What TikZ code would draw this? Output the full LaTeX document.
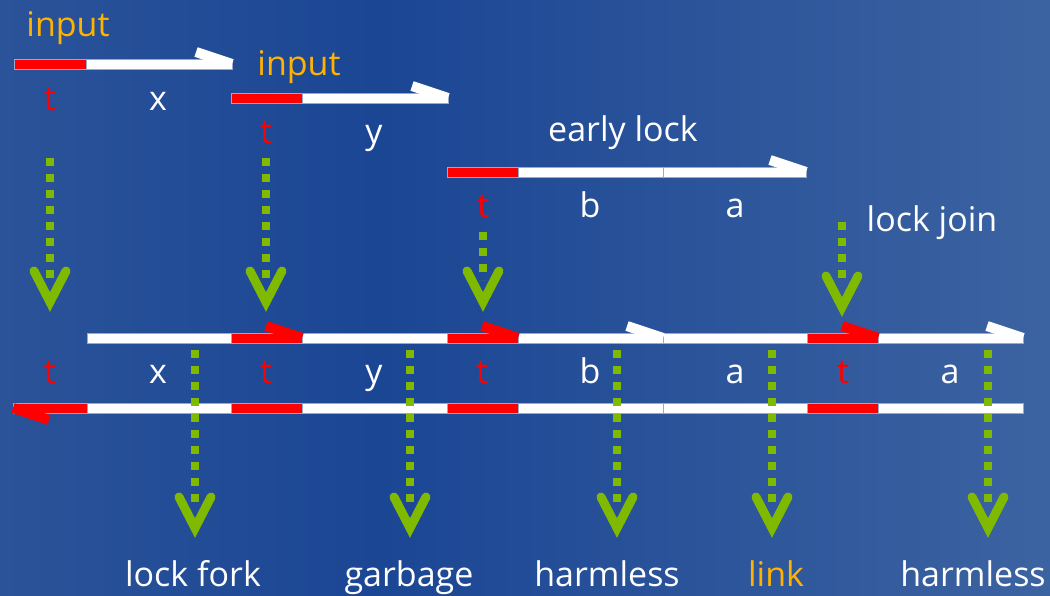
\documentclass[tikz,border=0pt]{standalone}
\usepackage{fontspec}
\setmainfont{Open Sans}
\usetikzlibrary{calc}
\definecolor{bgLeft}{HTML}{2A5399}
\definecolor{bgMid}{HTML}{1B4694}
\definecolor{bgRight}{HTML}{3C63A1}
\definecolor{tagRed}{HTML}{FF0000}
\definecolor{tagOrange}{HTML}{FFB300}
\definecolor{dropGreen}{HTML}{7FBA00}
\definecolor{segEdge}{HTML}{9AA9C6}
\newcommand{\DrawSeg}[4]{
    % #1: fill colour, #2: start x, #3: end x, #4: y level
    \draw[seg, fill=#1] (#2, #4-5) rectangle (#3, #4+5);
}
\newcommand{\DrawBarb}[4]{
    % #1: colour, #2: tip x, #3: y level, #4: 1 points right, -1 points left
    \draw[barb, #1] (#2, #3) -- ++(-36*#4, -12*#4);
}
\newcommand{\DrawDrop}[3]{
    % #1: x, #2: top y, #3: tip y
    \draw[drop] (#1, #2) -- (#1, #3-22);
    \draw[dropHead] (#1-16, #3-31) -- (#1, #3) -- (#1+16, #3-31);
}

\begin{document}
\begin{tikzpicture}[x=1pt, y=-1pt,
    lbl/.style={font=\fontsize{34}{40}\selectfont, text=white, inner sep=0pt, anchor=base},
    seg/.style={draw=segEdge, line width=0.6pt},
    barb/.style={line width=10pt, line cap=butt},
    drop/.style={dropGreen, line width=8pt, dash pattern=on 8pt off 8pt},
    dropHead/.style={dropGreen, line width=9pt, line cap=round, line join=miter}]
        % Background: dark in the middle, lighter towards the edges
        \shade[left color=bgLeft, right color=bgMid] (0,0) rectangle (380,596);
        \shade[left color=bgMid, right color=bgRight] (380,0) rectangle (1050,596);

        % Inputs and early lock
        \DrawSeg{tagRed}{14}{86}{64}
        \DrawSeg{white}{86}{232}{64}
        \DrawBarb{white}{232}{64}{1}
        \DrawSeg{tagRed}{231}{302}{98}
        \DrawSeg{white}{302}{448}{98}
        \DrawBarb{white}{448}{98}{1}
        \DrawSeg{tagRed}{447}{518}{172}
        \DrawSeg{white}{518}{663}{172}
        \DrawSeg{white}{663}{806}{172}
        \DrawBarb{white}{806}{172}{1}

        % Joined stream, upper line
        \DrawSeg{white}{87}{231}{338}
        \DrawSeg{tagRed}{231}{302}{338}
        \DrawSeg{white}{302}{447}{338}
        \DrawSeg{tagRed}{447}{518}{338}
        \DrawSeg{white}{518}{663}{338}
        \DrawSeg{white}{663}{807}{338}
        \DrawSeg{tagRed}{807}{878}{338}
        \DrawSeg{white}{878}{1023}{338}
        \DrawBarb{tagRed}{302}{338}{1}
        \DrawBarb{tagRed}{518}{338}{1}
        \DrawBarb{white}{663}{338}{1}
        \DrawBarb{tagRed}{878}{338}{1}
        \DrawBarb{white}{1023}{338}{1}

        % Joined stream, lower line
        \DrawSeg{tagRed}{13}{87}{408}
        \DrawSeg{white}{87}{231}{408}
        \DrawSeg{tagRed}{231}{302}{408}
        \DrawSeg{white}{302}{447}{408}
        \DrawSeg{tagRed}{447}{518}{408}
        \DrawSeg{white}{518}{663}{408}
        \DrawSeg{white}{663}{807}{408}
        \DrawSeg{tagRed}{807}{878}{408}
        \DrawSeg{white}{878}{1023}{408}
        \DrawBarb{tagRed}{13}{408}{-1}

        % Drops into the stream
        \DrawDrop{50}{158}{302}
        \DrawDrop{266}{158}{302}
        \DrawDrop{483}{232}{302}
        \DrawDrop{842}{222}{307}
        \foreach \dx in {195, 410, 617, 772, 988}
            \DrawDrop{\dx}{350}{528};

        % Labels on top
        \node[lbl, text=tagOrange] (inA) at (68,37) {input};
        \node[lbl, text=tagRed] (tA) at (50,111) {t};
        \node[lbl] (xA) at (158,111) {x};
        \node[lbl, text=tagOrange] (inB) at (299,76) {input};
        \node[lbl, text=tagRed] (tB) at (266,144) {t};
        \node[lbl] (yB) at (374,144) {y};
        \node[lbl] (early) at (623,142) {early lock};
        \node[lbl, text=tagRed] (tC) at (483,218) {t};
        \node[lbl] (bC) at (590,218) {b};
        \node[lbl] (aC) at (735,218) {a};
        \node[lbl] (join) at (932,232) {lock join};

        % Labels between the lines
        \foreach \px/\txt/\col [count=\i] in {50/t/tagRed, 158/x/white, 266/t/tagRed, 374/y/white, 482/t/tagRed,
                                                 590/b/white, 735/a/white, 843/t/tagRed, 950/a/white}
            \node[lbl, text=\col] (mid\i) at (\px,383) {\txt};

        % Outcomes
        \node[lbl] (fork) at (193,586) {lock fork};
        \node[lbl] (garb) at (409,586) {garbage};
        \node[lbl] (harmA) at (607,586) {harmless};
        \node[lbl, text=tagOrange] (link) at (776,586) {link};
        \node[lbl] (harmB) at (973,586) {harmless};
    \end{tikzpicture}
\end{document}
